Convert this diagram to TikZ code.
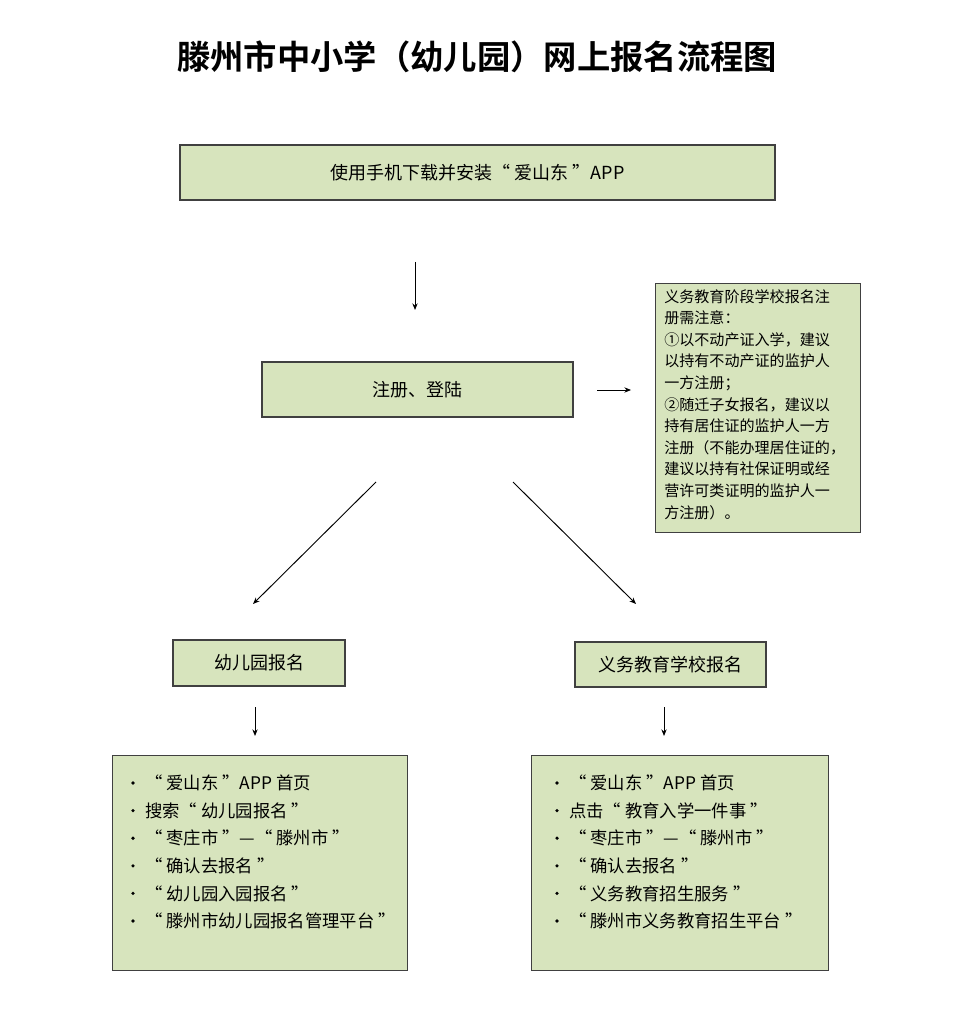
\documentclass[tikz,border=0pt]{standalone}
\usetikzlibrary{arrows.meta}
\usepackage{fontspec}
\setmainfont{Noto Sans CJK SC}
\newfontfamily\cjkb{Noto Sans CJK SC Bold}
\begin{document}
\begin{tikzpicture}[x=0.75pt,y=-0.75pt,
  box/.style={draw=black!75,fill=boxg,line width=0.8pt,inner sep=0pt},
  arr/.style={-{Stealth[length=5pt,width=4pt]},line width=0.7pt},
  lbl/.style={font=\fontsize{13.5pt}{15pt}\selectfont},
  item/.style={anchor=west,font=\fontsize{13pt}{15pt}\selectfont,inner sep=0pt}]
\definecolor{boxg}{HTML}{D7E4BD}
\useasboundingbox (0,0) rectangle (959,1012);
\node[font=\cjkb\fontsize{25pt}{30pt}\selectfont] (title) at (477,57) {滕州市中小学（幼儿园）网上报名流程图};
\node[box,minimum width=595*0.75pt,minimum height=55*0.75pt,lbl] (b1) at (477.5,172.5) {使用手机下载并安装“ 爱山东 ”APP};
\coordinate (a1s) at (415,262); \coordinate (a1e) at (415,310);
\draw[arr] (a1s) -- (a1e);
\node[box,minimum width=311*0.75pt,minimum height=55*0.75pt,lbl] (b2) at (417.5,389.5) {注册、登陆};
\coordinate (a2s) at (597,390); \coordinate (a2e) at (631,390);
\draw[arr] (a2s) -- (a2e);
\node[box,minimum width=205*0.75pt,minimum height=249*0.75pt,anchor=north west] (note) at (655,283) {};
\node[anchor=north west,align=left,inner sep=0pt,font=\fontsize{11.3pt}{16.2pt}\selectfont] (notet) at (664,289) {义务教育阶段学校报名注\\册需注意：\\①以不动产证入学，建议\\以持有不动产证的监护人\\一方注册；\\②随迁子女报名，建议以\\持有居住证的监护人一方\\注册（不能办理居住证的，\\建议以持有社保证明或经\\营许可类证明的监护人一\\方注册）。};
\coordinate (d1s) at (376,482); \coordinate (d1e) at (253,604);
\coordinate (d2s) at (513,482); \coordinate (d2e) at (636,604);
\draw[arr] (d1s) -- (d1e);
\draw[arr] (d2s) -- (d2e);
\node[box,minimum width=172*0.75pt,minimum height=46*0.75pt,lbl] (b3) at (259,663) {幼儿园报名};
\node[box,minimum width=191*0.75pt,minimum height=45*0.75pt,lbl] (b4) at (670.5,664.5) {义务教育学校报名};
\coordinate (e1s) at (255,707); \coordinate (e1e) at (255,736);
\coordinate (e2s) at (664,707); \coordinate (e2e) at (664,736);
\draw[arr] (e1s) -- (e1e);
\draw[arr] (e2s) -- (e2e);
\node[box,minimum width=295*0.75pt,minimum height=215*0.75pt,anchor=north west] (l1) at (112,755) {};
\node[box,minimum width=297*0.75pt,minimum height=215*0.75pt,anchor=north west] (l2) at (531,755) {};
\foreach \t [count=\i] in {“ 爱山东 ”APP 首页,搜索“ 幼儿园报名 ”,“ 枣庄市 ”—“ 滕州市 ”,“ 确认去报名 ”,“ 幼儿园入园报名 ”,“ 滕州市幼儿园报名管理平台 ”}{
  \node[item] (li\i) at (145,{783+(\i-1)*27.6}) {\t};
  \fill (133,{783+(\i-1)*27.6}) circle (1.8);
}
\foreach \t [count=\i] in {“ 爱山东 ”APP 首页,点击“ 教育入学一件事 ”,“ 枣庄市 ”—“ 滕州市 ”,“ 确认去报名 ”,“ 义务教育招生服务 ”,“ 滕州市义务教育招生平台 ”}{
  \node[item] (ri\i) at (569,{783+(\i-1)*27.6}) {\t};
  \fill (557,{783+(\i-1)*27.6}) circle (1.8);
}
\end{tikzpicture}
\end{document}
